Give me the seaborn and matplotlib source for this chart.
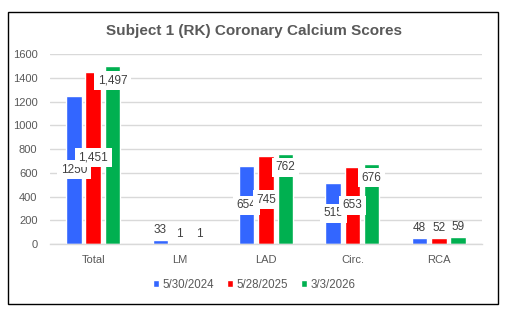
import matplotlib
matplotlib.use('Agg')
import matplotlib.pyplot as plt
from matplotlib.patches import Rectangle
import seaborn as sns
import pandas as pd

# Chart data
vessels = ['Total', 'LM', 'LAD', 'Circ.', 'RCA']
scan_dates = ['5/30/2024', '5/28/2025', '3/3/2026']
scores_2024 = [1250, 33, 654, 515, 48]
scores_2025 = [1451, 1, 745, 653, 52]
scores_2026 = [1497, 1, 762, 676, 59]
colors = ['#3366FF', '#FF0000', '#00B050']

sns.set_style('white')
plt.rcParams['font.family'] = ['Liberation Sans', 'DejaVu Sans']

df = pd.DataFrame({
    'vessel': vessels * 3,
    'date': [d for d in scan_dates for _ in vessels],
    'score': scores_2024 + scores_2025 + scores_2026,
})

fig = plt.figure(figsize=(5.08, 3.16), dpi=100)
ax = fig.add_axes([0.0984, 0.2278, 0.8504, 0.601])

sns.barplot(data=df, x='vessel', y='score', hue='date', hue_order=scan_dates,
            order=vessels, palette=colors, saturation=1, width=0.67, gap=0.2,
            errorbar=None, ax=ax)

ax.set_ylim(0, 1600)
ax.set_yticks(range(0, 1601, 200))
ax.set_xlim(-0.5, len(vessels) - 0.5)
ax.grid(axis='y', color='#D9D9D9', linewidth=1)
ax.set_axisbelow(True)
for side in ['left', 'right', 'top']:
    ax.spines[side].set_visible(False)
ax.spines['bottom'].set_color('#D9D9D9')
ax.spines['bottom'].set_linewidth(1)
ax.set_xlabel('')
ax.set_ylabel('')
ax.tick_params(axis='both', length=0, labelsize=8, colors='#595959')
ax.tick_params(axis='x', pad=8)
ax.tick_params(axis='y', pad=9)

# data labels: white boxes, first series without thousands separator
box = dict(boxstyle='square,pad=0.3', fc='white', ec='none')
for i, cont in enumerate(ax.containers):
    for bar in cont:
        v = bar.get_height()
        txt = f'{int(v)}' if i == 0 else f'{int(v):,}'
        x = bar.get_x() + bar.get_width() / 2
        if v < 100:
            ax.annotate(txt, (x, v), xytext=(0, 3), textcoords='offset points',
                        ha='center', va='bottom', fontsize=8.5, color='#404040')
        elif i == 2:
            ax.annotate(txt, (x, v), xytext=(0, -10), textcoords='offset points',
                        ha='center', va='center', fontsize=8.5, color='#404040', bbox=box)
        else:
            ax.annotate(txt, (x, v / 2), ha='center', va='center',
                        fontsize=8.5, color='#404040', bbox=box)

fig.text(0.5, 1 - 31 / 316, 'Subject 1 (RK) Coronary Calcium Scores', ha='center',
         va='center', fontsize=11, fontweight='bold', color='#595959')

ax.legend(loc='center', bbox_to_anchor=(0.5, 1 - 285 / 316), bbox_transform=fig.transFigure,
          ncol=3, frameon=False, fontsize=8.3, handlelength=0.55, handleheight=0.55,
          handletextpad=0.3, columnspacing=1.1, labelcolor='#595959')

fig.patches.append(Rectangle((8 / 508, 1 - 304 / 316), 490 / 508, 292 / 316,
                             transform=fig.transFigure, fill=False, ec='black', lw=1))

plt.savefig('out.png', dpi=100)
